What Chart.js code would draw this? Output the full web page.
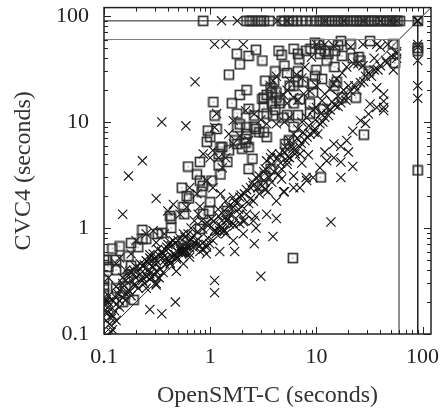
<!DOCTYPE html>
<html>
<head>
<meta charset="utf-8">
<script src="https://cdn.jsdelivr.net/npm/chart.js@4/dist/chart.umd.min.js"></script>
<style>
  body { margin: 0; background: #fff; }
  #wrap { width: 441px; height: 410px; }
</style>
</head>
<body>
<div id="wrap"><canvas id="scatter"></canvas></div>
<script>
/* axis range and ticks */
const axisMin = 0.1;
const axisMax = 120;
const decadeTicks = [0.1, 1, 10, 100];
const decadeLabels = ["0.1", "1", "10", "100"];
const minorSteps = [1, 2, 3, 4, 5, 6, 7, 8, 9];

/* time limits drawn as boxes */
const timeoutLimit = 90;
const innerLimit = 60;

/* crosses: timeouts on CVC4 (y = 90) and on OpenSMT-C (x = 90) */
const crossTimeout = [[1.28,90],[1.8,90],[4.3,90],[5.3,90],[12,90],[18,90],[28,90],[40,90],[50,90],[57,90],[89,90],[90,90],[91,90]];
const crossRight = [[90,54],[90,51],[90,38],[90,22],[90,16.7]];

/* crosses near the diagonal */
const crossDiag = [[0.1,0.22],[0.104,0.2],[0.11,0.18],[0.105,0.16],[0.117,0.14],[0.12,0.11],[0.113,0.124],[0.13,0.134],[0.126,0.166],[0.14,0.206],[0.135,0.24],[0.15,0.275],[0.17,0.26],[0.16,0.32],[0.18,0.32],[0.19,0.29],[0.2,0.34],[0.22,0.37],[0.23,0.32],[0.25,0.35],[0.26,0.4],[0.28,0.34],[0.29,0.43],[0.31,0.46],[0.31,0.3],[0.33,0.34],[0.36,0.38],[0.37,0.49],[0.39,0.52],[0.42,0.46],[0.45,0.57],[0.48,0.51],[0.52,0.63],[0.54,0.57],[0.58,0.6],[0.6,0.66],[0.64,0.57],[0.69,0.66],[0.74,0.76],[0.8,0.68],[0.86,0.63],[0.92,0.66],[0.99,0.71],[1.06,0.76],[1.14,0.88],[1.23,0.94],[1.32,0.94],[1.4,0.88],[1.65,1.1],[1.7,1.05],[2.05,1.15],[2.1,1.17],[2.2,1.35],[1.9,1.35],[2.3,1.7],[2.55,1.8],[2.9,2.1],[3.3,2.3],[3.5,2.2],[3.8,2.7],[4.4,3.2],[4.7,3.6],[5.3,4.0],[5.6,4.6],[6.3,5],[7,5.8],[7.8,6.7],[8.7,7.7],[9.7,8.6],[10.8,9.6],[12,11.1],[13.5,13],[15,14.3],[17,15.2],[19,17.6],[21,19.5],[23,22],[26,23.5],[29,27],[31,29],[35,31],[40,34],[46,36],[51,42],[57,44],
  [0.55,0.62],[0.56,0.6],[0.57,0.64],[0.55,0.58],[0.58,0.62],[0.53,0.6],[0.105,0.21],[0.1,0.19],[0.11,0.23],[0.12,0.21],
  [0.64,0.65],[0.56,0.59],[0.48,0.53],[0.42,0.47],[0.31,0.39],[0.27,0.37],[0.23,0.34],[0.2,0.29],[0.175,0.25],[0.15,0.22],[0.13,0.19],[0.11,0.16],[0.92,0.7],[1.14,0.93],[1.3,1.0],[1.52,1.09],
  [0.12,0.15],[0.14,0.18],[0.16,0.21],[0.18,0.23],[0.21,0.27],[0.24,0.3],[0.27,0.33],[0.3,0.36],[0.34,0.41],[0.38,0.45],[0.41,0.5],[0.44,0.53],[0.47,0.56],[0.5,0.59],[0.6,0.72],[0.66,0.78],[0.7,0.85],[0.76,0.92],[0.85,0.98],[0.95,1.05],[1.08,1.15],[1.2,1.3],[1.35,1.45],[1.5,1.6],[1.7,1.8],[1.95,2.05],[2.2,2.3],[2.5,2.7],[2.9,3.1],[3.3,3.6],[3.8,4.0],[4.3,4.6],[5,5.2],[5.8,6.1],[6.6,7.0],[7.5,8],[8.5,9.2],[9.8,10.5],[11,12],[12.5,13.5],[14,15.5],[16,17.5],[18,20],[20,22],
  [0.13,0.28],[0.15,0.3],[0.17,0.36],[0.19,0.4],[0.22,0.41],[0.24,0.45],[0.26,0.47],[0.28,0.48],[0.3,0.52],[0.33,0.55],[0.35,0.6],[0.38,0.62],[0.4,0.7],[0.43,0.68],[0.47,0.72],[0.52,0.8],[0.58,0.82],[0.64,0.75],[0.7,0.72],[0.75,0.7],[0.85,0.72],[0.95,0.8],[1.1,0.95],[1.25,1.05],[1.45,1.2],[1.6,1.35],[1.85,1.5],[2.0,1.6],[2.4,1.9],[2.8,2.4],[3.2,2.8],[3.6,3.0],[4.0,3.4],[4.6,4.1],[5.4,4.7],[6.2,5.4],[7.2,6.3],[8.2,7.2],[9.5,8],[11.5,10],[13,11.5],[16,14],[19,16],[24,20],[28,24],[33,27],[38,31],[45,38]];

/* crosses well above the diagonal */
const crossAbove = [[0.11,0.2],[0.13,0.22],[0.14,0.26],[0.16,0.24],[0.19,0.37],[0.16,0.4],[0.2,0.43],[0.23,0.44],[0.25,0.49],[0.27,0.52],[0.29,0.57],[0.32,0.63],[0.36,0.57],[0.39,0.66],[0.42,0.73],[0.45,0.76],[0.5,0.76],[0.54,0.68],[0.56,0.88],[0.62,0.88],[0.66,1.0],[0.71,1.17],[0.77,1.35],[0.83,1.17],[0.93,1.13],[1.03,1.22],[1.19,1.5],[1.29,1.17],[1.37,0.94],[1.43,1.17],[1.53,1.35],[1.65,1.57],[1.78,1.7],[1.9,1.95],[2.1,2.1],[2.4,2.4],[2.55,2.5],[2.7,3.0],[3.2,3.4],[3.4,4.3],[3.7,4.6],[4.5,5],[5.1,5.8],[5.6,6.7],[6.1,7.7],[6.7,8.6],[7.3,10],[8.1,11],[9.3,13],[10,13.7],[11.3,15.9],[12,18.4],[13.5,20.5],[14.6,23],[15.5,25.5],[17.5,29],[19.3,33],[22.4,35.5],[24.6,35.5],[27.5,34],[35,40],[40,51],[47,54],[37,54],[27.5,54],[21,51],[14.6,52],[12,54],[10,54],[9,41],[7.8,33],[7.3,26],[6.5,28],[5.6,24.5],[5.3,20],[4.9,18],[4.2,27],[3.9,24.5],[3.7,22],[10,22],[8.7,19.5],[7.6,18.4],[6.7,16],[6.1,17],[5.3,15],[5.6,11.1],[5,10],[4.2,9.6],[3.4,9.6],[3.0,10.5],[2.6,11.9],[2.15,12.8],[1.65,10.3],[1.5,7.7],[1.9,7.4],[2.3,6.7],[1.65,6.2],[1.4,4.6],[1.3,3.7],[1.2,4.6],[1.06,5.4],[0.86,5],[1.0,4.6],[1.1,8.9],[1.15,12],[0.93,2.8],[1.06,2.4],[1.25,2.1],[1.4,1.8],[1.65,1.95],[0.8,1.6],[0.75,2.1],[0.64,2.4],[0.6,1.57],[0.52,1.35],[0.45,1.67],[0.4,1.45],[0.37,0.88],[0.29,0.94],[0.25,0.88],[0.31,0.73],[0.2,0.76],[0.18,0.57],[0.14,0.52],[0.13,0.46],[0.11,0.34],[0.105,0.134],[0.117,0.104],[1.1,54],[1.4,55],[2.05,54],[0.72,24],[0.35,10],[0.59,9.2],[0.23,4.3],[0.17,3.1],[0.31,1.9],[0.15,1.35],[0.27,0.56],[0.36,0.53],[0.22,0.46],[0.175,0.39],[0.15,0.34],[0.31,0.49]];

/* crosses below the diagonal */
const crossBelow = [[0.27,0.17],[0.35,0.155],[0.47,0.2],[1.1,0.32],[1.1,0.245],[3.0,0.35],[1.7,0.6],[2.6,0.71],[2.7,1.0],[2.65,1.3],[3.9,0.83],[4.2,1.23],[13.7,1.14],[12,5.2],[17,3.0],[17,4.2],[17,5.9],[20,5.2],[22,3.8],[22,8.2],[29,9.7],[32,14.8],[37,21],[43,15.7],[43,13.7],[43,12.8],[10.3,7.7],[8,3.0],[7.3,4.1],[6.1,3.1],[5.3,4.3],[4.9,2.2],[5.0,2.2],[4.7,2.9],[3.8,5.0],[3.1,2.5],[7,5],[8.4,4.9],[6,5.6],[0.92,0.57],[1.23,0.6],[1.65,0.76],[2.05,0.88],[1.9,1.1],[2.55,1.17],[3.4,1.35],[4.2,1.8],[6.1,2.4],[7,2.4],[8.1,2.8],[9.3,3],[10.8,3.7],[12.5,4.3],[14.6,4.6],[14.6,6.2],[19.3,6.7],[26,10.3],[31,11.9],[37,13.7],[43,18.4],[53,31],[57,46],[57,40],[0.48,0.39],[0.56,0.46],[0.64,0.53],[0.8,0.6],[0.31,0.29],[0.25,0.27]];

/* squares */
const squareTimeout = [[0.86,90],[2.2,90],[2.35,90],[2.5,90],[2.8,90],[3.0,90],[3.2,90],[3.6,90],[4.7,90],[5.0,90],[5.5,90],[6.0,90],[6.5,90],[7.2,90],[8.0,90],[9.0,90],[10,90],[10.7,90],[11.5,90],[12.3,90],[13.2,90],[14,90],[15,90],[16,90],[17,90],[18,90],[19.5,90],[21,90],[22.5,90],[24,90],[25.5,90],[27,90],[29,90],[31,90],[33,90],[35,90],[37.5,90],[40,90],[43,90],[46,90],[49,90],[52,90],[55,90],[58,90],[61,90],[90,90]];
const squareRight = [[90,50],[90,47],[90,3.5]];
const squareMain = [[1.78,44],[2.3,42],[1.9,35],[2.7,48],[3.1,38],[4.4,47],[4.7,43],[4.1,30],[5,34],[5.3,29],[6.1,49],[6.7,44],[6.9,39],[6.7,30],[8,47],[8.8,49],[9.7,56],[10.6,54],[11,49],[10.8,44],[12,47],[13,44],[12.5,38],[15,47],[17,58],[16,53],[17.5,42],[21,54],[22,40],[25,41],[26,38],[14.8,33],[32,58],[31,30],[53,54],[55,36],[10,31],[11.3,25.5],[9.7,27],[9.3,23],[7.5,24],[6.1,22],[5.6,22],[6.7,24],[9.3,19],[15.5,24],[14.8,22],[17.5,17],[23.5,17],[8.7,15],[7,16.4],[6.1,15],[11.6,13.2],[8.7,12],[6.7,11.6],[5.3,11.6],[4.9,11],[6.1,9],[5.1,6.2],[5.5,6.7],[4.2,17],[4.5,16],[4.2,19],[3.8,19],[3.4,18],[3.2,17],[3.1,16.5],[3.2,13.8],[3.4,12],[3.9,11.5],[3.8,15],[4.5,15],[4.1,13],[3.3,24.5],[4,24],[3.7,21],[1.5,28],[1.9,18],[2.2,20],[1.6,15],[2.3,13.3],[2.6,11.5],[1.8,12],[1.9,9.5],[1.8,8.9],[2.2,8.9],[2.2,7.7],[2.6,9],[2.9,8],[3.2,8],[3.4,7.2],[2.7,8.6],[1.7,6.7],[1.8,6.2],[2.15,6.4],[2.3,5.8],[2.0,5.6],[2.15,6.9],[2.5,4.5],[2.3,3.6],[1.07,15.4],[1.1,11.5],[1.15,8.6],[0.95,8.3],[1.0,7.2],[0.93,6.5],[1.25,5.8],[1.3,5.8],[1.5,5.4],[1.2,5],[1.45,4.2],[1.2,3.9],[1.25,3.2],[1.03,2.8],[0.8,4.2],[0.62,3.8],[0.75,3.2],[0.8,2.8],[0.83,2.2],[0.85,2.5],[0.54,2.4],[0.6,2.0],[0.63,1.9],[0.56,1.58],[0.42,1.3],[0.43,1.23],[0.43,1.0],[0.8,0.98],[1.0,1.75],[0.98,1.45],[1.45,1.45],[0.86,1.36],[0.55,0.76],[0.57,1.35],[0.32,0.88],[0.35,0.9],[0.23,0.96],[0.23,0.79],[0.25,0.79],[0.21,0.66],[0.18,0.72],[0.14,0.67],[0.12,0.64],[0.1,0.5],[0.105,0.5],[0.13,0.5],[0.11,0.43],[0.17,0.54],[0.18,0.44],[0.13,0.4],[0.17,0.34],[0.1,0.32],[0.1,0.28],[0.1,0.24],[0.16,0.28],[0.19,0.21],[0.15,0.2],[0.13,0.27],[6,0.52],[11,3.0],[28,7.6],[3.1,2.5],[3.3,3.1],[3.7,3.6]];

const toXY = pts => pts.map(([x, y]) => ({ x, y }));

/* reference lines in data units */
const diagonal = toXY([[axisMin, axisMin], [axisMax, axisMax]]);
const outerBox = toXY([[axisMin, timeoutLimit], [timeoutLimit, timeoutLimit], [timeoutLimit, axisMin]]);
const innerBox = toXY([[axisMin, innerLimit], [innerLimit, innerLimit], [innerLimit, axisMin]]);

/* boxed square with a centre dot */
const boxMark = document.createElement("canvas");
boxMark.width = 12;
boxMark.height = 12;
{
  const c = boxMark.getContext("2d");
  c.strokeStyle = "#2a2a2a";
  c.lineWidth = 1.6;
  c.strokeRect(1.5, 1.5, 9, 9);
  c.fillStyle = "#333";
  c.fillRect(5.5, 5.5, 1, 1);
}

const tickValues = [];
decadeTicks.slice(0, 3).forEach(d => minorSteps.forEach(m => tickValues.push(+(d * m).toPrecision(3))));
tickValues.push(100);

const isDecade = v => decadeTicks.some(d => Math.abs(d - v) < 1e-9);
const labelFor = v => {
  const i = decadeTicks.findIndex(d => Math.abs(d - v) < 1e-9);
  return i >= 0 ? decadeLabels[i] : "";
};

/* gnuplot style frame with inward ticks on all four sides */
const frameTicks = {
  id: "frameTicks",
  afterDatasetsDraw(chart) {
    const { ctx, chartArea: a, scales: { x, y } } = chart;
    ctx.save();
    ctx.strokeStyle = "#222";
    ctx.lineWidth = 1;
    ctx.beginPath();
    tickValues.forEach(v => {
      const len = isDecade(v) ? 7 : 4;
      const px = Math.round(x.getPixelForValue(v)) + 0.5;
      ctx.moveTo(px, a.bottom); ctx.lineTo(px, a.bottom - len);
      ctx.moveTo(px, a.top); ctx.lineTo(px, a.top + len);
      const py = Math.round(y.getPixelForValue(v)) + 0.5;
      ctx.moveTo(a.left, py); ctx.lineTo(a.left + len, py);
      ctx.moveTo(a.right, py); ctx.lineTo(a.right - len, py);
    });
    ctx.stroke();
    ctx.lineWidth = 1.5;
    ctx.strokeRect(a.left, a.top, a.right - a.left, a.bottom - a.top);
    ctx.restore();
  }
};

const tickFont = { family: "'Liberation Serif', 'DejaVu Serif', serif", size: 22 };
const titleFont = { family: "'Liberation Serif', 'DejaVu Serif', serif", size: 24 };

const crossStyle = {
  pointStyle: "crossRot",
  pointRadius: 6.5,
  pointHoverRadius: 6.5,
  pointBorderWidth: 1.1,
  borderColor: "#111",
  backgroundColor: "#111",
  showLine: false
};
const squareStyle = {
  pointStyle: boxMark,
  pointRadius: 5,
  showLine: false
};
const lineStyle = (color) => ({
  showLine: true,
  pointRadius: 0,
  borderWidth: 1,
  borderColor: color,
  tension: 0,
  fill: false
});

new Chart(document.getElementById("scatter"), {
  type: "scatter",
  data: {
    datasets: [
      { data: innerBox, ...lineStyle("#808080") },
      { data: outerBox, ...lineStyle("#222") },
      { data: diagonal, ...lineStyle("#222") },
      { data: toXY(squareMain), ...squareStyle },
      { data: toXY(squareTimeout), ...squareStyle },
      { data: toXY(squareRight), ...squareStyle },
      { data: toXY(crossDiag), ...crossStyle },
      { data: toXY(crossAbove), ...crossStyle },
      { data: toXY(crossBelow), ...crossStyle },
      { data: toXY(crossTimeout), ...crossStyle },
      { data: toXY(crossRight), ...crossStyle }
    ]
  },
  options: {
    responsive: true,
    maintainAspectRatio: false,
    animation: false,
    layout: { padding: { left: 0, right: 10, top: 7, bottom: 0 } },
    plugins: {
      legend: { display: false },
      tooltip: { enabled: false }
    },
    scales: {
      x: {
        type: "logarithmic",
        min: axisMin,
        max: axisMax,
        grid: { display: false, drawTicks: false, tickLength: 0 },
        border: { display: false },
        afterBuildTicks: s => { s.ticks = tickValues.map(v => ({ value: v })); },
        afterFit: s => { s.height = 76; s.paddingLeft = 0; s.paddingRight = 0; },
        ticks: {
          autoSkip: false,
          maxRotation: 0,
          padding: 10,
          color: "#222",
          font: tickFont,
          callback: v => labelFor(v)
        },
        title: {
          display: true,
          text: "OpenSMT-C (seconds)",
          color: "#333",
          font: titleFont,
          padding: 0
        }
      },
      y: {
        type: "logarithmic",
        min: axisMin,
        max: axisMax,
        grid: { display: false, drawTicks: false, tickLength: 0 },
        border: { display: false },
        afterBuildTicks: s => { s.ticks = tickValues.map(v => ({ value: v })); },
        afterFit: s => { s.width = 104; s.paddingTop = 0; s.paddingBottom = 0; },
        ticks: {
          autoSkip: false,
          padding: 15,
          color: "#222",
          font: tickFont,
          callback: v => labelFor(v)
        },
        title: {
          display: true,
          text: "CVC4 (seconds)",
          color: "#333",
          font: titleFont,
          padding: { top: 9, bottom: 0 }
        }
      }
    }
  },
  plugins: [frameTicks]
});
</script>
</body>
</html>
